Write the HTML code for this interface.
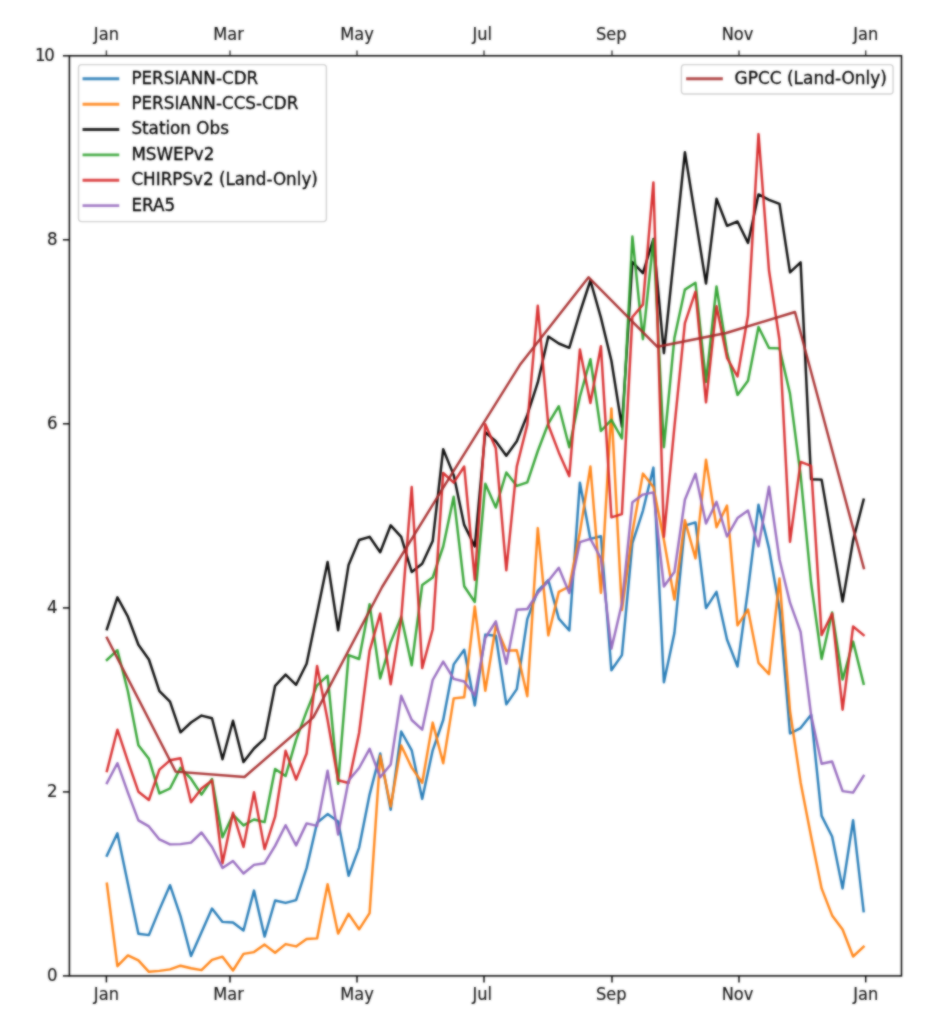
<!DOCTYPE html>
<html lang="en"><head><meta charset="utf-8">
<style>html,body{margin:0;padding:0;background:#fff}svg{display:block}text{font-family:"DejaVu Sans","Liberation Sans",sans-serif;font-size:16.6px;fill:#000;stroke:#000;stroke-width:0.3px}.ln{fill:none;stroke-width:2.45;stroke-linejoin:round;stroke-linecap:square;stroke-opacity:0.95}.ll{stroke-width:2.9;stroke-opacity:0.85}.lg{font-size:16.77px}.tl{stroke-width:0.15px;fill:#111;stroke:#111}.tk{stroke:#000;stroke-width:1.45}</style></head><body>
<svg width="926" height="1036" viewBox="0 0 926 1036">
<defs><filter id="soft" x="0" y="0" width="926" height="1036" filterUnits="userSpaceOnUse" color-interpolation-filters="sRGB"><feGaussianBlur in="SourceGraphic" stdDeviation="0.9" result="b"/><feComposite in="b" in2="SourceGraphic" operator="arithmetic" k1="0" k2="0.7" k3="0.30" k4="0"/></filter></defs>
<g filter="url(#soft)">
<rect x="0" y="0" width="926" height="1036" fill="#fff"/>
<g id="lines">
<polyline class="ln" stroke="#1f77b4" points="106.9,855.6 117.4,833.3 127.9,883.7 138.4,933.8 148.9,935.1 159.4,909.6 170.0,885.2 180.5,916.1 191.0,956.0 201.5,932.3 212.0,908.5 222.5,921.9 233.0,922.5 243.5,930.5 254.0,890.6 264.6,936.6 275.1,900.5 285.6,902.9 296.1,900.1 306.6,868.1 317.1,822.7 327.6,814.1 338.1,821.6 348.6,875.7 359.1,847.6 369.6,794.6 380.2,753.5 390.7,809.7 401.2,731.5 411.7,750.3 422.2,798.9 432.7,750.3 443.2,720.0 453.7,664.4 464.2,649.7 474.8,705.4 485.3,634.6 495.8,635.7 506.3,704.4 516.8,689.1 527.3,619.2 537.8,590.8 548.3,580.0 558.8,618.6 569.3,630.5 579.9,482.7 590.4,538.9 600.9,536.3 611.4,670.3 621.9,655.1 632.4,543.2 642.9,510.8 653.4,467.6 663.9,682.2 674.4,633.0 684.9,525.7 695.5,522.4 706.0,608.1 716.5,591.9 727.0,639.5 737.5,666.5 748.0,589.7 758.5,504.7 769.0,548.4 779.5,609.2 790.0,733.5 800.6,728.1 811.1,714.7 821.6,815.9 832.1,836.5 842.6,888.4 853.1,820.3 863.6,911.1"/>
<polyline class="ln" stroke="#ff7f0e" points="106.9,883.7 117.4,966.2 127.9,955.4 138.4,960.3 148.9,971.8 159.4,970.9 170.0,969.4 180.5,965.7 191.0,968.3 201.5,970.1 212.0,959.9 222.5,956.7 233.0,970.5 243.5,953.9 254.0,952.1 264.6,944.6 275.1,952.8 285.6,944.1 296.1,946.4 306.6,939.0 317.1,938.4 327.6,884.3 338.1,933.6 348.6,913.9 359.1,929.3 369.6,913.1 380.2,755.7 390.7,806.5 401.2,745.5 411.7,767.6 422.2,782.7 432.7,722.6 443.2,763.2 453.7,698.4 464.2,697.3 474.8,606.5 485.3,690.8 495.8,625.9 506.3,650.8 516.8,650.2 527.3,696.2 537.8,528.1 548.3,635.4 558.8,591.9 569.3,586.5 579.9,532.4 590.4,466.5 600.9,593.0 611.4,408.4 621.9,610.0 632.4,532.4 642.9,473.6 653.4,487.0 663.9,540.0 674.4,599.5 684.9,520.3 695.5,558.4 706.0,459.7 716.5,527.2 727.0,505.6 737.5,625.4 748.0,609.6 758.5,662.8 769.0,674.1 779.5,578.5 790.0,710.8 800.6,782.4 811.1,836.5 821.6,888.4 832.1,915.4 842.6,929.5 853.1,956.5 863.6,946.8"/>
<polyline class="ln" stroke="#000000" points="106.9,629.2 117.4,597.3 127.9,616.7 138.4,644.8 148.9,659.5 159.4,691.2 170.0,701.6 180.5,732.3 191.0,722.5 201.5,715.6 212.0,718.2 222.5,759.3 233.0,720.8 243.5,762.1 254.0,748.5 264.6,738.7 275.1,685.8 285.6,674.6 296.1,684.8 306.6,663.8 317.1,613.0 327.6,562.0 338.1,630.3 348.6,564.9 359.1,540.0 369.6,536.8 380.2,552.3 390.7,525.3 401.2,536.8 411.7,572.0 422.2,563.8 432.7,541.1 443.2,449.2 453.7,475.1 464.2,524.9 474.8,546.5 485.3,432.2 495.8,441.2 506.3,455.7 516.8,441.2 527.3,414.9 537.8,382.4 548.3,336.6 558.8,343.5 569.3,347.8 579.9,312.5 590.4,280.5 600.9,317.6 611.4,360.8 621.9,426.8 632.4,262.0 642.9,273.2 653.4,239.0 663.9,353.2 674.4,252.7 684.9,152.3 695.5,218.1 706.0,283.6 716.5,198.8 727.0,225.8 737.5,221.5 748.0,242.9 758.5,194.4 769.0,199.8 779.5,203.9 790.0,272.4 800.6,262.3 811.1,479.2 821.6,479.6 832.1,540.4 842.6,601.6 853.1,540.4 863.6,499.7"/>
<polyline class="ln" stroke="#2ca02c" points="106.9,659.9 117.4,650.2 127.9,691.2 138.4,745.2 148.9,758.8 159.4,793.4 170.0,788.5 180.5,767.9 191.0,778.7 201.5,794.6 212.0,779.0 222.5,837.2 233.0,814.6 243.5,825.4 254.0,819.5 264.6,822.1 275.1,769.0 285.6,776.0 296.1,739.6 306.6,711.4 317.1,685.4 327.6,675.7 338.1,783.8 348.6,655.1 359.1,659.0 369.6,604.3 380.2,678.5 390.7,642.2 401.2,616.6 411.7,665.3 422.2,585.0 432.7,577.5 443.2,546.5 453.7,496.8 464.2,586.2 474.8,602.0 485.3,483.8 495.8,507.6 506.3,472.5 516.8,485.9 527.3,482.3 537.8,451.0 548.3,423.5 558.8,406.2 569.3,447.2 579.9,396.5 590.4,359.3 600.9,431.0 611.4,419.8 621.9,438.5 632.4,236.5 642.9,339.2 653.4,239.7 663.9,447.2 674.4,338.0 684.9,289.6 695.5,282.8 706.0,381.9 716.5,286.5 727.0,352.0 737.5,394.9 748.0,380.8 758.5,327.0 769.0,348.0 779.5,348.4 790.0,393.8 800.6,475.0 811.1,583.0 821.6,658.9 832.1,612.4 842.6,679.5 853.1,641.6 863.6,683.8"/>
<polyline class="ln" stroke="#d62728" points="106.9,771.1 117.4,729.7 127.9,761.4 138.4,791.7 148.9,800.0 159.4,769.6 170.0,760.3 180.5,758.2 191.0,802.2 201.5,788.5 212.0,780.4 222.5,863.2 233.0,812.8 243.5,847.0 254.0,792.3 264.6,849.1 275.1,816.7 285.6,750.8 296.1,779.5 306.6,753.5 317.1,665.9 327.6,720.0 338.1,780.3 348.6,783.0 359.1,733.0 369.6,650.8 380.2,613.6 390.7,684.3 401.2,618.4 411.7,487.0 422.2,668.1 432.7,629.2 443.2,473.0 453.7,482.7 464.2,466.5 474.8,579.8 485.3,424.3 495.8,448.2 506.3,570.3 516.8,466.5 527.3,424.6 537.8,305.7 548.3,425.0 558.8,452.4 569.3,476.2 579.9,349.5 590.4,403.0 600.9,346.2 611.4,517.3 621.9,514.1 632.4,317.0 642.9,304.6 653.4,182.4 663.9,536.8 674.4,427.0 684.9,323.1 695.5,291.7 706.0,402.4 716.5,306.3 727.0,357.8 737.5,376.5 748.0,315.5 758.5,134.1 769.0,270.5 779.5,340.0 790.0,541.9 800.6,461.9 811.1,465.8 821.6,635.1 832.1,613.5 842.6,709.7 853.1,626.5 863.6,635.1"/>
<polyline class="ln" stroke="#9467bd" points="106.9,783.0 117.4,763.2 127.9,792.7 138.4,820.4 148.9,826.4 159.4,839.4 170.0,844.4 180.5,844.1 191.0,842.6 201.5,832.5 212.0,847.0 222.5,867.9 233.0,861.0 243.5,873.5 254.0,864.9 264.6,863.2 275.1,845.9 285.6,825.2 296.1,845.4 306.6,823.4 317.1,825.9 327.6,770.8 338.1,834.6 348.6,780.5 359.1,768.0 369.6,748.8 380.2,777.3 390.7,764.5 401.2,695.8 411.7,720.0 422.2,729.7 432.7,680.0 443.2,661.6 453.7,678.9 464.2,681.5 474.8,695.6 485.3,638.0 495.8,621.3 506.3,663.8 516.8,609.7 527.3,609.0 537.8,593.0 548.3,581.1 558.8,567.7 569.3,593.0 579.9,542.2 590.4,538.9 600.9,558.4 611.4,648.6 621.9,603.8 632.4,502.2 642.9,494.6 653.4,492.4 663.9,586.5 674.4,572.0 684.9,499.7 695.5,473.8 706.0,523.5 716.5,501.9 727.0,536.5 737.5,518.1 748.0,510.5 758.5,546.3 769.0,486.8 779.5,559.5 790.0,602.7 800.6,631.9 811.1,715.1 821.6,763.7 832.1,761.5 842.6,791.1 853.1,792.6 863.6,775.9"/>
<polyline class="ln" stroke="#a52a2a" points="106.9,637.9 175.7,771.6 244.5,777.0 313.3,717.4 382.1,587.0 451.0,475.1 519.8,365.1 588.6,277.3 657.4,346.8 726.2,333.0 795.0,312.0 863.8,568.1"/>
</g>
<g id="ticks">
<line class="tk" x1="106.4" x2="106.4" y1="975.9" y2="982.4"/>
<line class="tk" stroke-opacity="0.75" x1="106.4" x2="106.4" y1="55.8" y2="50.4"/>
<text class="tl" transform="translate(106.4 999.8) scale(0.98 1.08)" text-anchor="middle">Jan</text>
<text class="tl" transform="translate(106.4 39.9) scale(0.98 1.08)" text-anchor="middle">Jan</text>
<line class="tk" x1="230.0" x2="230.0" y1="975.9" y2="982.4"/>
<line class="tk" stroke-opacity="0.75" x1="230.0" x2="230.0" y1="55.8" y2="50.4"/>
<text class="tl" transform="translate(228.5 999.8) scale(0.98 1.08)" text-anchor="middle">Mar</text>
<text class="tl" transform="translate(228.5 39.9) scale(0.98 1.08)" text-anchor="middle">Mar</text>
<line class="tk" x1="357.0" x2="357.0" y1="975.9" y2="982.4"/>
<line class="tk" stroke-opacity="0.75" x1="357.0" x2="357.0" y1="55.8" y2="50.4"/>
<text class="tl" transform="translate(357.0 999.8) scale(0.98 1.08)" text-anchor="middle">May</text>
<text class="tl" transform="translate(357.0 39.9) scale(0.98 1.08)" text-anchor="middle">May</text>
<line class="tk" x1="484.0" x2="484.0" y1="975.9" y2="982.4"/>
<line class="tk" stroke-opacity="0.75" x1="484.0" x2="484.0" y1="55.8" y2="50.4"/>
<text class="tl" transform="translate(482.3 999.8) scale(0.98 1.08)" text-anchor="middle">Jul</text>
<text class="tl" transform="translate(482.3 39.9) scale(0.98 1.08)" text-anchor="middle">Jul</text>
<line class="tk" x1="612.0" x2="612.0" y1="975.9" y2="982.4"/>
<line class="tk" stroke-opacity="0.75" x1="612.0" x2="612.0" y1="55.8" y2="50.4"/>
<text class="tl" transform="translate(611.3 999.8) scale(0.98 1.08)" text-anchor="middle">Sep</text>
<text class="tl" transform="translate(611.3 39.9) scale(0.98 1.08)" text-anchor="middle">Sep</text>
<line class="tk" x1="739.0" x2="739.0" y1="975.9" y2="982.4"/>
<line class="tk" stroke-opacity="0.75" x1="739.0" x2="739.0" y1="55.8" y2="50.4"/>
<text class="tl" transform="translate(737.5 999.8) scale(0.98 1.08)" text-anchor="middle">Nov</text>
<text class="tl" transform="translate(737.5 39.9) scale(0.98 1.08)" text-anchor="middle">Nov</text>
<line class="tk" x1="865.7" x2="865.7" y1="975.9" y2="982.4"/>
<line class="tk" stroke-opacity="0.75" x1="865.7" x2="865.7" y1="55.8" y2="50.4"/>
<text class="tl" transform="translate(865.7 999.8) scale(0.98 1.08)" text-anchor="middle">Jan</text>
<text class="tl" transform="translate(865.7 39.9) scale(0.98 1.08)" text-anchor="middle">Jan</text>
<line class="tk" x1="69.4" x2="62.900000000000006" y1="975.9" y2="975.9"/>
<text class="tl" transform="translate(57.5 980.8) scale(1 1.08)" text-anchor="end">0</text>
<line class="tk" x1="69.4" x2="62.900000000000006" y1="791.9" y2="791.9"/>
<text class="tl" transform="translate(57.5 796.8) scale(1 1.08)" text-anchor="end">2</text>
<line class="tk" x1="69.4" x2="62.900000000000006" y1="607.9" y2="607.9"/>
<text class="tl" transform="translate(57.5 612.8) scale(1 1.08)" text-anchor="end">4</text>
<line class="tk" x1="69.4" x2="62.900000000000006" y1="423.8" y2="423.8"/>
<text class="tl" transform="translate(57.5 428.7) scale(1 1.08)" text-anchor="end">6</text>
<line class="tk" x1="69.4" x2="62.900000000000006" y1="239.8" y2="239.8"/>
<text class="tl" transform="translate(57.5 244.7) scale(1 1.08)" text-anchor="end">8</text>
<line class="tk" x1="69.4" x2="62.900000000000006" y1="55.8" y2="55.8"/>
<text class="tl" transform="translate(54.9 60.7) scale(1 1.08)" text-anchor="end">1<tspan dx="-1.3">0</tspan></text>
</g>
<rect x="69.4" y="55.8" width="832.1" height="920.1" fill="none" stroke="#000" stroke-width="1.5"/>
<g id="legend1">
<rect x="78.5" y="64.6" width="247.9" height="157.0" rx="3.3" fill="#fff" fill-opacity="0.8" stroke="#d0d0d0" stroke-width="1.4"/>
<line class="ln ll" stroke="#1f77b4" x1="84.0" x2="117.8" y1="78.8" y2="78.8"/>
<text x="131.4" y="83.7" class="lg">PERSIANN-CDR</text>
<line class="ln ll" stroke="#ff7f0e" x1="84.0" x2="117.8" y1="104.2" y2="104.2"/>
<text x="131.4" y="109.1" class="lg">PERSIANN-CCS-CDR</text>
<line class="ln ll" stroke="#000000" x1="84.0" x2="117.8" y1="129.5" y2="129.5"/>
<text x="131.4" y="134.4" class="lg">Station Obs</text>
<line class="ln ll" stroke="#2ca02c" x1="84.0" x2="117.8" y1="154.9" y2="154.9"/>
<text x="131.4" y="159.8" class="lg">MSWEPv2</text>
<line class="ln ll" stroke="#d62728" x1="84.0" x2="117.8" y1="180.2" y2="180.2"/>
<text x="131.4" y="185.1" class="lg">CHIRPSv2 (Land-Only)</text>
<line class="ln ll" stroke="#9467bd" x1="84.0" x2="117.8" y1="205.6" y2="205.6"/>
<text x="131.4" y="210.5" class="lg">ERA5</text>
</g>
<g id="legend2">
<rect x="681.4" y="64.6" width="211.7" height="29.4" rx="3.3" fill="#fff" fill-opacity="0.8" stroke="#d0d0d0" stroke-width="1.4"/>
<line class="ln ll" stroke="#a52a2a" x1="687.6" x2="721.4" y1="78.8" y2="78.8"/>
<text x="734.6" y="83.7" class="lg" style="font-size:16.95px">GPCC (Land-Only)</text>
</g>
</g>
</svg></body></html>
